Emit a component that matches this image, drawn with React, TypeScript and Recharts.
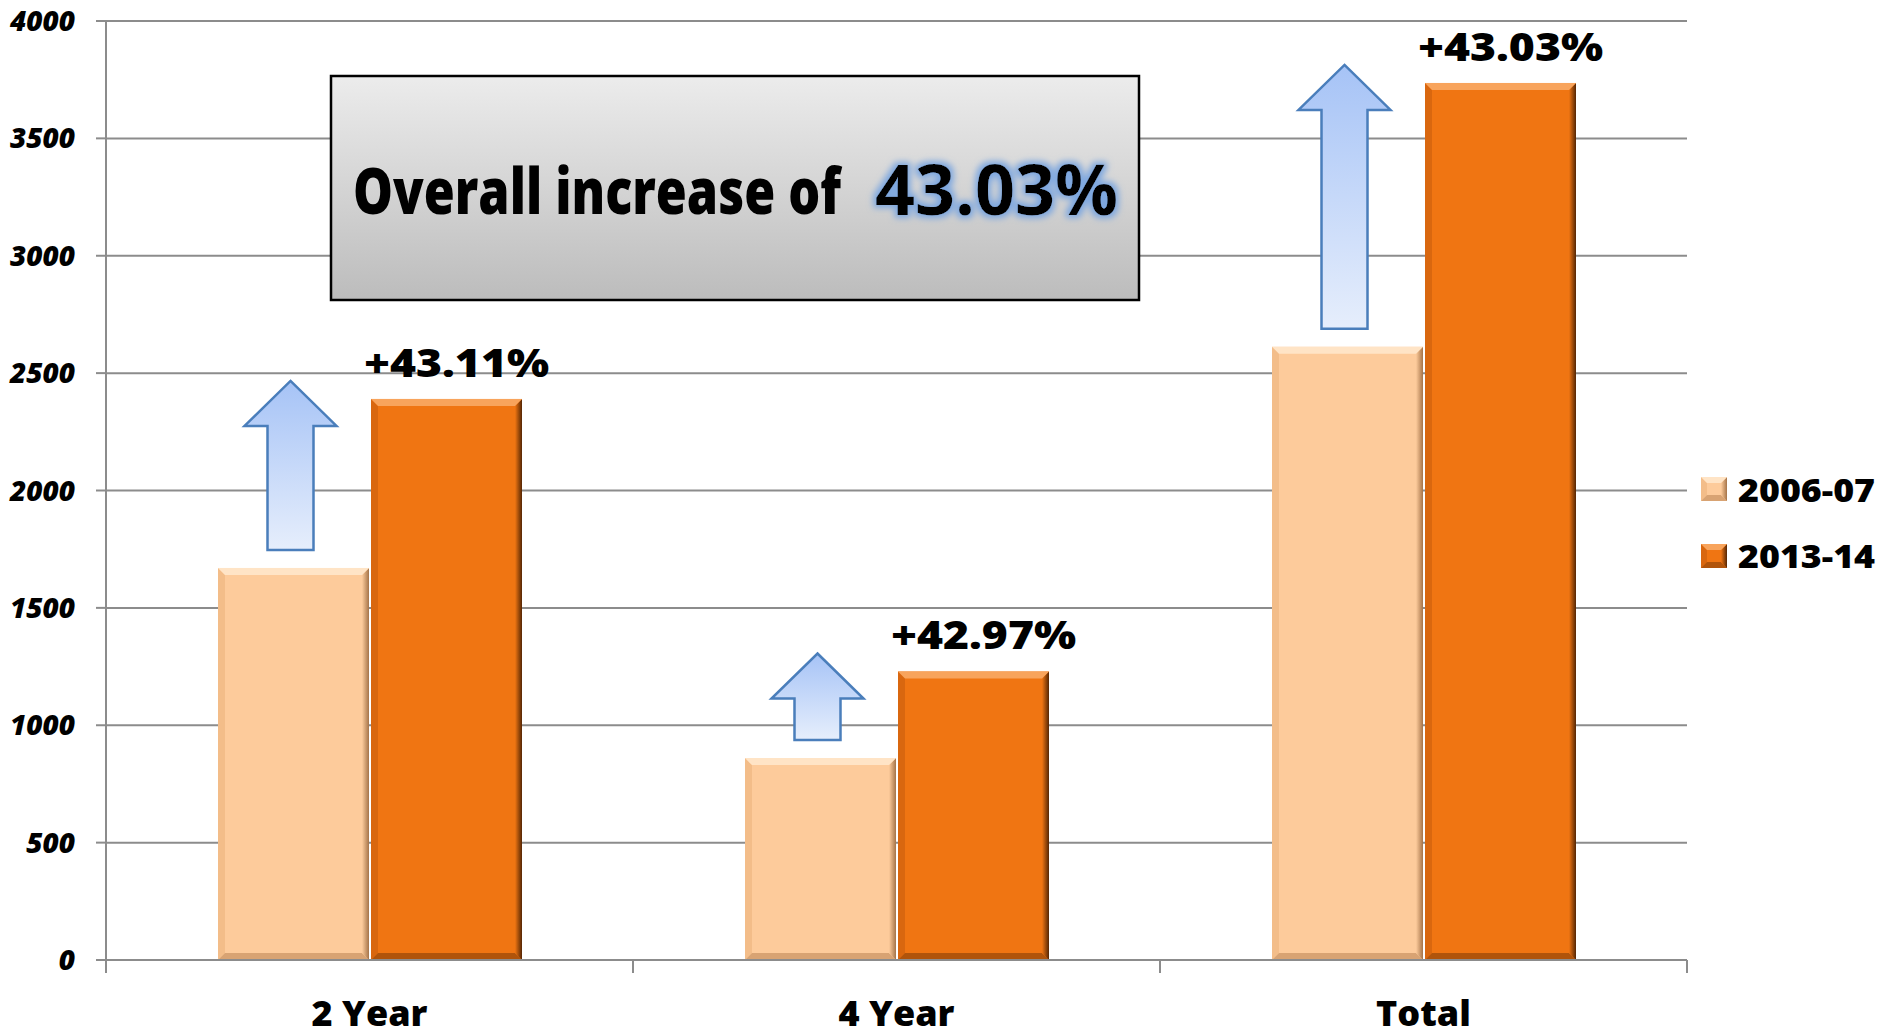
import React from 'react';
import { BarChart, Bar, XAxis, YAxis, CartesianGrid, LabelList } from 'recharts';

const categories = ['2 Year', '4 Year', 'Total'];
const values2006 = [1670, 860, 2612];
const values2013 = [2390, 1229, 3736];
const changeLabels = ['+43.11%', '+42.97%', '+43.03%'];
const seriesNames = ['2006-07', '2013-14'];
const yTicks = [0, 500, 1000, 1500, 2000, 2500, 3000, 3500, 4000];
const overallText = 'Overall increase of';
const overallValue = '43.03%';

const data = categories.map((name, i) => ({ name, a: values2006[i], b: values2013[i] }));

const FONT = "'Open Sans', sans-serif";
const GRID = '#8c8c8c';
const HEAVY = 800;

const PEACH = { fill: '#FDCB9B', light: '#FFE4C6', left: '#F3BD89', bottom: '#D8A373', dark: '#A57449', grad: 'peachRight' };
const ORANGE = { fill: '#F07512', light: '#F8A45C', left: '#D9670F', bottom: '#B0540B', dark: '#552604', grad: 'orangeRight' };

function bevel(x: number, y: number, w: number, h: number, c: any, b: number) {
  return (
    <g>
      <rect x={x} y={y} width={w} height={h} fill={c.fill} />
      <polygon points={`${x},${y} ${x + b},${y + b} ${x + b},${y + h - b} ${x},${y + h}`} fill={c.left} />
      <polygon points={`${x},${y + h} ${x + b},${y + h - b} ${x + w - b},${y + h - b} ${x + w},${y + h}`} fill={c.bottom} />
      <polygon points={`${x + w},${y} ${x + w},${y + h} ${x + w - b},${y + h - b} ${x + w - b},${y + b}`} fill={`url(#${c.grad})`} />
      <polygon points={`${x},${y} ${x + w},${y} ${x + w - b},${y + b} ${x + b},${y + b}`} fill={c.light} />
    </g>
  );
}

function gradDefs(suffix: string) {
  return (
    <>
      <linearGradient id={'peachRight' + suffix} x1="0" x2="1" y1="0" y2="0">
        <stop offset="0" stopColor={PEACH.fill} />
        <stop offset="1" stopColor={PEACH.dark} />
      </linearGradient>
      <linearGradient id={'orangeRight' + suffix} x1="0" x2="1" y1="0" y2="0">
        <stop offset="0" stopColor={ORANGE.fill} />
        <stop offset="1" stopColor={ORANGE.dark} />
      </linearGradient>
    </>
  );
}

// peach bar + the blue arrow rising to the 2013-14 bar
const PeachBar = (props: any) => {
  const { x, y, width, height, payload } = props;
  if (!height) return null;
  const base = y + height;
  const k = height / payload.a;
  const orangeTop = base - payload.b * k;
  const cx = x + width / 2 - 3;
  const tip = orangeTop - 18;
  const bottom = y - 18;
  const hw = 23, hh = 46, head = 45;
  const pts = [
    [cx, tip], [cx + hh, tip + head], [cx + hw, tip + head], [cx + hw, bottom],
    [cx - hw, bottom], [cx - hw, tip + head], [cx - hh, tip + head],
  ].map(p => p.join(',')).join(' ');
  return (
    <g>
      {bevel(x, y, width, height, PEACH, 7)}
      <polygon points={pts} fill="url(#arrowGrad)" stroke="#4a7ebb" strokeWidth={2.5} />
    </g>
  );
};

const OrangeBar = (props: any) => {
  const { x, y, width, height } = props;
  if (!height) return null;
  return bevel(x, y, width, height, ORANGE, 7);
};

const renderChangeLabel = (p: any) => {
  const { x, y, width, index } = p;
  const cx = x + width / 2 + 10;
  return (
    <g transform={`translate(${cx},${y - 22}) scale(1.17,1)`}>
      <text x={0} y={0} textAnchor="middle" fontFamily={FONT} fontWeight={HEAVY} fontSize={38} fill="#000">
        {changeLabels[index]}
      </text>
    </g>
  );
};

const YTick = (p: any) => {
  const { x, y, payload } = p;
  return (
    <text x={x} y={y + 10} textAnchor="end" fontFamily={FONT} fontWeight={HEAVY} fontStyle="italic" fontSize={28} fill="#000">
      {payload.value}
    </text>
  );
};

const XTick = (p: any) => {
  const { x, y, payload, index } = p;
  const off = payload.offset ?? 263.5;
  return (
    <g>
      <line x1={x - off} y1={y} x2={x - off} y2={y + 13} stroke={GRID} strokeWidth={2} />
      {index === categories.length - 1 && (
        <line x1={x + off} y1={y} x2={x + off} y2={y + 13} stroke={GRID} strokeWidth={2} />
      )}
      <text x={x} y={y + 66} textAnchor="middle" fontFamily={FONT} fontWeight={HEAVY} fontSize={36} fill="#000">
        {payload.value}
      </text>
    </g>
  );
};

function LegendBox() {
  return (
    <svg width={205} height={110} style={{ position: 'absolute', left: 1695, top: 470 }}>
      <defs>{gradDefs('L')}</defs>
      {[PEACH, ORANGE].map((c, i) => (
        <g key={i}>
          {bevel(6, 7 + i * 67, 26, 24, { ...c, grad: c.grad + 'L' }, 6)}
          <g transform={`translate(43,${32 + i * 66}) scale(1.1,1)`}>
            <text x={0} y={0} fontFamily={FONT} fontWeight={HEAVY} fontSize={32.5} fill="#000">
              {seriesNames[i]}
            </text>
          </g>
        </g>
      ))}
    </svg>
  );
}

function OverallBox() {
  return (
    <svg width={812} height={228} style={{ position: 'absolute', left: 329, top: 74 }}>
      <defs>
        <linearGradient id="boxGrad" x1="0" x2="0" y1="0" y2="1">
          <stop offset="0" stopColor="#ececec" />
          <stop offset="1" stopColor="#bcbcbc" />
        </linearGradient>
        <filter id="glow" x="-20%" y="-40%" width="140%" height="180%">
          <feMorphology operator="dilate" radius="3" in="SourceAlpha" result="d" />
          <feGaussianBlur in="d" stdDeviation="3" result="b" />
          <feFlood floodColor="#7fa8df" />
          <feComposite in2="b" operator="in" result="g" />
          <feMerge>
            <feMergeNode in="g" />
            <feMergeNode in="SourceGraphic" />
          </feMerge>
        </filter>
      </defs>
      <rect x={2} y={2} width={808} height={224} fill="url(#boxGrad)" stroke="#000" strokeWidth={2.5} />
      <text x={24} y={140} fontFamily={FONT} fontWeight={HEAVY} fontSize={64} fill="#000" textLength={488} lengthAdjust="spacingAndGlyphs">
        {overallText}
      </text>
      <text x={546} y={141} fontFamily={FONT} fontWeight={700} fontSize={70} fill="#000" filter="url(#glow)">
        {overallValue}
      </text>
    </svg>
  );
}

export default function App() {
  return (
    <div style={{ position: 'absolute', left: 0, top: 0, width: 1902, height: 1032, background: '#fff' }}>
      <BarChart
        width={1902}
        height={1032}
        data={data}
        margin={{ top: 21, right: 215, bottom: 0, left: 0 }}
        barCategoryGap={112}
        barGap={2}
      >
        <defs>
          {gradDefs('')}
          <linearGradient id="arrowGrad" x1="0" x2="0" y1="0" y2="1">
            <stop offset="0" stopColor="#a6c3f6" />
            <stop offset="1" stopColor="#e6eefc" />
          </linearGradient>
        </defs>
        <CartesianGrid vertical={false} stroke={GRID} strokeWidth={2} />
        <XAxis
          dataKey="name"
          height={72}
          tickSize={0}
          tickMargin={0}
          tickLine={false}
          axisLine={{ stroke: GRID, strokeWidth: 2 }}
          tick={<XTick />}
        />
        <YAxis
          width={106}
          domain={[0, 4000]}
          ticks={yTicks}
          interval={0}
          tickSize={10}
          tickMargin={21}
          tickLine={{ stroke: GRID, strokeWidth: 2 }}
          axisLine={{ stroke: GRID, strokeWidth: 2 }}
          tick={<YTick />}
        />
        <Bar dataKey="a" name={seriesNames[0]} fill={PEACH.fill} shape={<PeachBar />} isAnimationActive={false} />
        <Bar dataKey="b" name={seriesNames[1]} fill={ORANGE.fill} shape={<OrangeBar />} isAnimationActive={false}>
          <LabelList dataKey="b" content={renderChangeLabel} />
        </Bar>
      </BarChart>
      <OverallBox />
      <LegendBox />
    </div>
  );
}
